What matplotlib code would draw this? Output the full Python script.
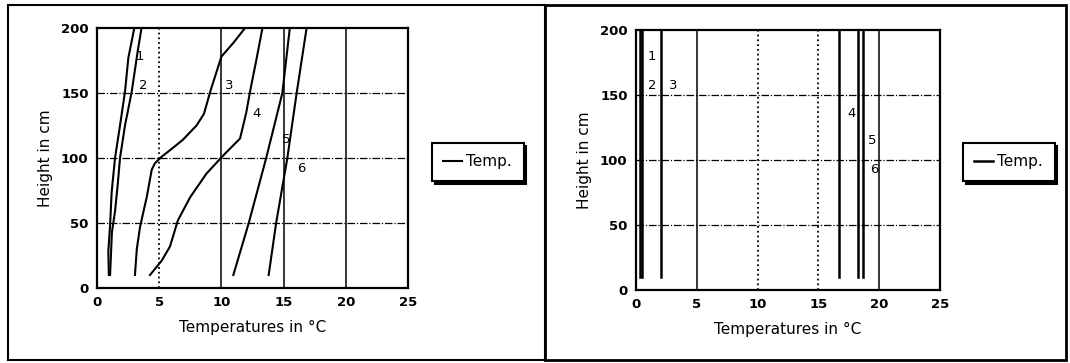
import matplotlib
matplotlib.use('Agg')
import matplotlib.pyplot as plt
from matplotlib.patches import Rectangle

# left panel: temperature profiles (temp in C, height in cm)
t1 = [0.95, 0.91, 1.05, 1.18, 1.45, 1.85, 2.25, 2.52, 3.0]
h1 = [10, 28, 48, 74, 100, 125, 151, 177, 200]
t2 = [1.05, 1.2, 1.45, 1.66, 1.85, 2.25, 2.79, 3.27, 3.58]
h2 = [10, 43, 59, 79, 100, 125, 151, 182, 200]
t3 = [3.05, 3.2, 3.46, 4.0, 4.4, 4.66, 5.2, 6.0, 6.9, 8.0, 8.6, 9.1, 10.0, 11.0, 11.9]
h3 = [10, 30, 47, 70, 91, 96, 101, 107, 114, 125, 134, 151, 178, 189, 200]
t4 = [4.26, 5.2, 5.87, 6.5, 7.5, 8.8, 10.15, 11.5, 12.0, 12.3, 12.8, 13.3]
h4 = [10, 21, 32, 52, 70, 88, 102, 115, 135, 151, 175, 200]
t5 = [10.96, 12.2, 13.6, 14.9, 15.5]
h5 = [10, 50, 100, 150, 200]
t6 = [13.8, 14.4, 15.3, 16.05, 16.85]
h6 = [10, 50, 100, 150, 200]
left_curves = [(t1, h1), (t2, h2), (t3, h3), (t4, h4), (t5, h5), (t6, h6)]
left_lbl_t = [3.45, 3.72, 10.6, 12.8, 15.2, 16.45]
left_lbl_h = [178, 156, 156, 134, 114, 92]

# right panel: constant temperatures
right_temps = [0.35, 0.5, 2.05, 16.7, 18.25, 18.7]
right_h = [10, 200]
right_lbl_t = [1.3, 1.3, 3.1, 17.7, 19.4, 19.6]
right_lbl_h = [180, 157, 157, 136, 115, 93]

curve_labels = ['1', '2', '3', '4', '5', '6']
xticks = [0, 5, 10, 15, 20, 25]
yticks = [0, 50, 100, 150, 200]

fig = plt.figure(figsize=(10.7, 3.63), dpi=100)

# panel frames
fig.add_artist(Rectangle((8/1070, 3/363), 537/1070, 355/363, transform=fig.transFigure,
                         fill=False, lw=1.5, ec='black'))
fig.add_artist(Rectangle((545/1070, 3/363), 521/1070, 355/363, transform=fig.transFigure,
                         fill=False, lw=2, ec='black'))

ax1 = fig.add_axes([97/1070, 75/363, 311/1070, 260/363])
ax2 = fig.add_axes([636/1070, 73/363, 304/1070, 260/363])


def setup(ax, vstyles):
    ax.set_xlim(0, 25)
    ax.set_ylim(0, 200)
    ax.set_xticks(xticks)
    ax.set_yticks(yticks)
    ax.tick_params(direction='in', length=0, labelsize=9.5, pad=6)
    for lab in ax.get_xticklabels() + ax.get_yticklabels():
        lab.set_fontweight('bold')
    for yv in yticks[1:-1]:
        ax.axhline(yv, color='black', lw=0.9, ls=(0, (6, 1.5, 1, 1.5)), zorder=1)
    for xv, st in zip(xticks[1:-1], vstyles):
        ax.axvline(xv, color='black', lw=1.1 if st == '-' else 1.3, ls=st, zorder=1)
    for s in ax.spines.values():
        s.set_linewidth(1.6)
    ax.set_xlabel('Temperatures in °C', fontsize=11, labelpad=8)
    ax.set_ylabel('Height in cm', fontsize=11, labelpad=6)


setup(ax1, [':', '-', '-', '-'])
setup(ax2, ['-', ':', ':', '-'])

lines = []
for t, h in left_curves:
    ln, = ax1.plot(t, h, color='black', lw=1.5, label='Temp.', zorder=3)
    lines.append(ln)
for lab, x, y in zip(curve_labels, left_lbl_t, left_lbl_h):
    ax1.text(x, y, lab, fontsize=9.5, ha='center', va='center', zorder=4)

lines2 = []
for t in right_temps:
    ln, = ax2.plot([t, t], right_h, color='black', lw=1.8, label='Temp.', zorder=3)
    lines2.append(ln)
for lab, x, y in zip(curve_labels, right_lbl_t, right_lbl_h):
    ax2.text(x, y, lab, fontsize=9.5, ha='center', va='center', zorder=4)

for ln, x0 in [(lines[0], 432/1070), (lines2[0], 963/1070)]:
    leg = fig.legend([ln], ['Temp.'], loc='upper left', bbox_to_anchor=(x0, 1 - 143/363),
                     bbox_transform=fig.transFigure, frameon=True, fancybox=False,
                     shadow={'color': 'black', 'alpha': 1}, edgecolor='black',
                     framealpha=1, handlelength=1.2, handletextpad=0.3,
                     borderpad=0.75, borderaxespad=0, fontsize=11)
    leg.get_frame().set_linewidth(1.5)

fig.savefig('out.png', dpi=100)
